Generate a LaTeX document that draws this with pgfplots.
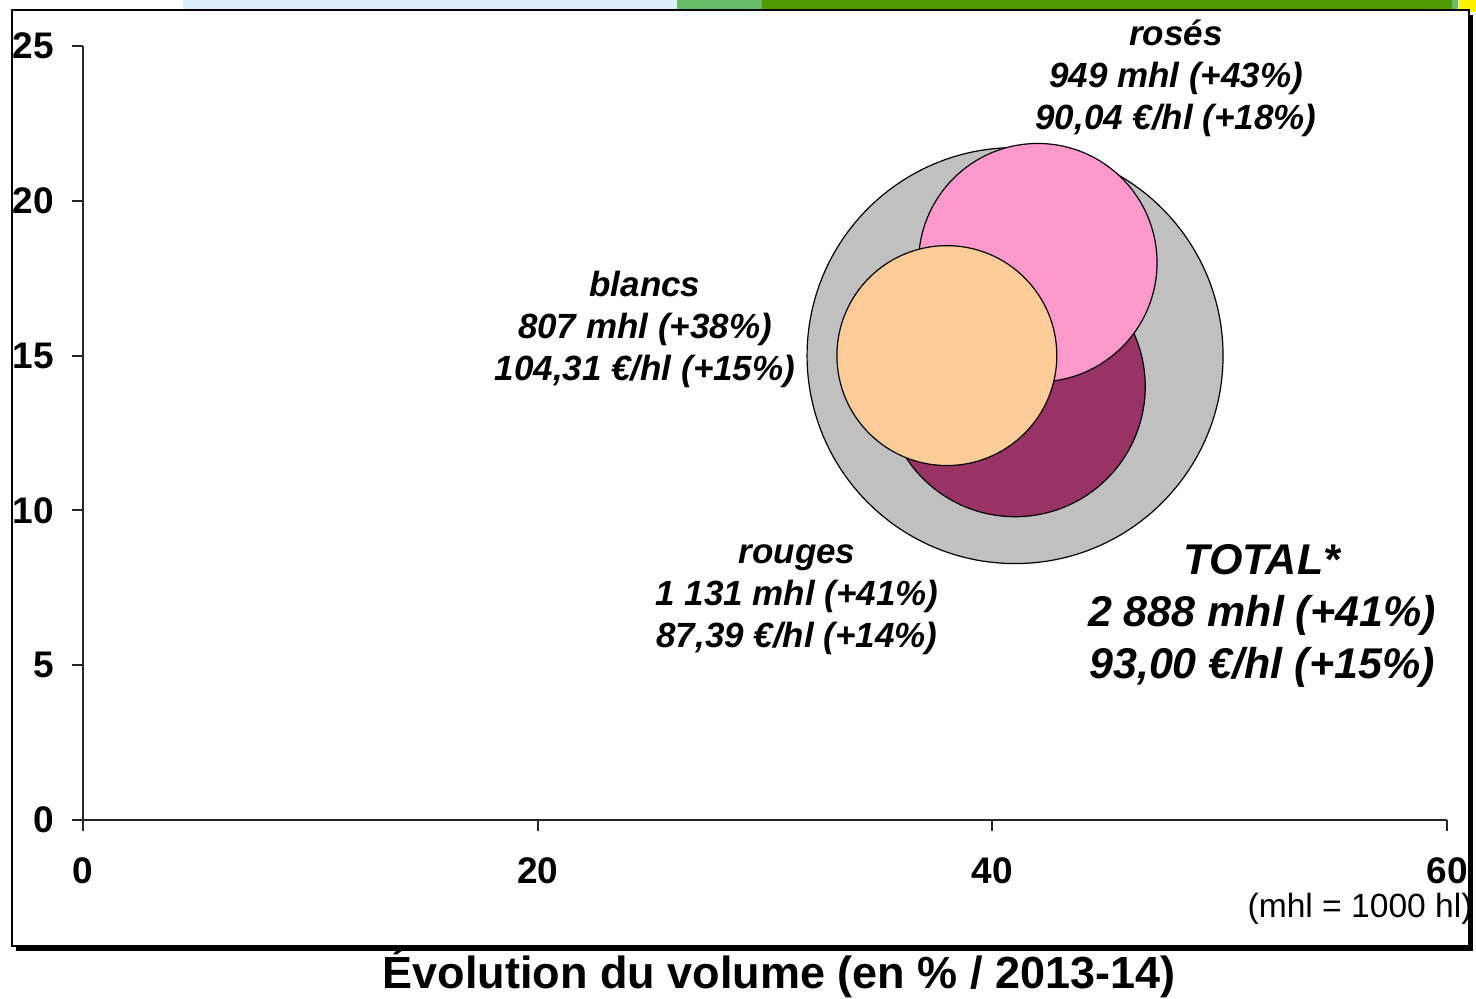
\documentclass[border=0pt]{standalone}
\usepackage{pgfplots}
\pgfplotsset{compat=1.18}
\usepackage{pgfplotstable}
\usepackage{fontspec}
\setmainfont{Liberation Sans}

\definecolor{cgrey}{HTML}{C0C0C0}
\definecolor{cpink}{HTML}{FF99CC}
\definecolor{cmaroon}{HTML}{993366}
\definecolor{corange}{HTML}{FFCC99}
\definecolor{bandblue}{HTML}{DDEEF8}
\definecolor{bandgreen}{HTML}{66BE6B}
\definecolor{banddark}{HTML}{4F9A00}
\definecolor{bandyellow}{HTML}{FFF200}

% x = volume change (%), y = price change (%), v = volume (mhl)
\pgfplotstableread{
x y v
41 15 2888
}\total
\pgfplotstableread{
x y v
41 14 1131
}\rouges
\pgfplotstableread{
x y v
42 18 949
}\roses
\pgfplotstableread{
x y v
38 15 807
}\blancs

\pgfplotsset{
  bubble/.style={scatter, only marks, mark=*, line width=0.6pt,
    scatter/use mapped color={draw=black, fill=#1},
    visualization depends on={104*sqrt(\thisrow{v}/2888)\as\rad},
    scatter/@pre marker code/.append style={/tikz/mark size=\rad pt}},
}

\newcommand{\lab}{\fontsize{17.5}{21}\selectfont\bfseries\itshape}
\newcommand{\labbig}{\fontsize{21.5}{26}\selectfont\bfseries\itshape}

\begin{document}
\begin{tikzpicture}[x=1pt,y=1pt]
\path[use as bounding box] (-41.5,-89.5) rectangle (696.5,410);
% slide bands at the top
\fill[bandblue] (50,404) rectangle (297,410);
\fill[bandgreen] (297,404) rectangle (339.5,410);
\fill[banddark] (339.5,404) rectangle (684.5,410);
\fill[bandgreen] (684.5,404) rectangle (687.5,410);
\fill[bandyellow] (688,404) rectangle (696.5,410);
% chart frame with shadow
\fill[black] (-33.5,-65.5) rectangle (695,402.5);
\filldraw[fill=white, draw=black, line width=0.8pt] (-35.5,-63) rectangle (693,405);

\begin{axis}[
  at={(0,0)}, anchor=south west,
  scale only axis, width=682pt, height=387pt,
  xmin=0, xmax=60, ymin=0, ymax=25,
  axis x line=bottom, axis y line=left,
  axis line style={-, line width=1pt, black!85},
  xtick={0,20,40,60}, ytick={0,5,10,15,20,25},
  tick align=outside, major tick length=5.5pt,
  tick style={line width=1pt, black!85},
  tick label style={font=\fontsize{18.5}{21}\selectfont\bfseries},
  /pgf/number format/assume math mode=true,
  xticklabel style={yshift=-10pt},
  yticklabel style={xshift=-5.5pt},
  point meta min=0, point meta max=30,
  clip=false,
]
\addplot[bubble=cgrey] table {\total};
\addplot[bubble=cmaroon] table {\rouges};
\addplot[bubble=cpink] table {\roses};
\addplot[bubble=corange] table {\blancs};

\node[align=center, font=\lab] at (axis cs:48.08,23.96) {rosés\\949 mhl (+43\%)\\90,04 €/hl (+18\%)};
\node[align=center, font=\lab] at (axis cs:24.72,15.86) {blancs\\807 mhl (+38\%)\\104,31 €/hl (+15\%)};
\node[align=center, font=\lab] at (axis cs:31.41,7.1) {rouges\\1 131 mhl (+41\%)\\87,39 €/hl (+14\%)};
\node[align=center, font=\labbig] at (axis cs:51.86,6.6) {TOTAL*\\2 888 mhl (+41\%)\\93,00 €/hl (+15\%)};
\end{axis}

\node[anchor=base east, font=\fontsize{16.8}{19}\selectfont, inner sep=0pt] at (695,-49) {(mhl = 1000 hl)};
\node[anchor=base, font=\fontsize{22.5}{26}\selectfont\bfseries, inner sep=0pt] at (348,-84.5) {Évolution du volume (en \% / 2013-14)};
\end{tikzpicture}
\end{document}
